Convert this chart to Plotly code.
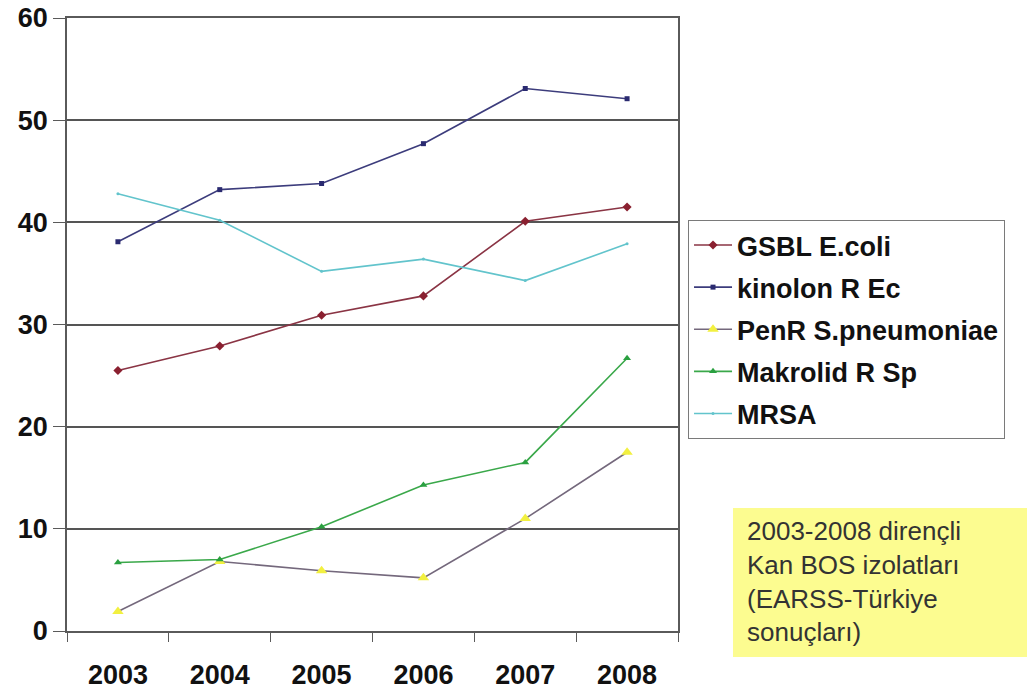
import plotly.graph_objects as go

# Yıllar (kategori ekseni)
years = ["2003", "2004", "2005", "2006", "2007", "2008"]

# Dirençli izolat oranları (%)
gsbl_ecoli = [25.5, 27.9, 30.9, 32.8, 40.1, 41.5]
kinolon_r_ec = [38.1, 43.2, 43.8, 47.7, 53.1, 52.1]
penr_spn = [1.9, 6.8, 5.9, 5.2, 11.0, 17.5]
makrolid_r_sp = [6.7, 7.0, 10.2, 14.3, 16.5, 26.7]
mrsa = [42.8, 40.2, 35.2, 36.4, 34.3, 37.9]

series_names = ["GSBL E.coli", "kinolon R Ec", "PenR S.pneumoniae", "Makrolid R Sp", "MRSA"]

y_ticks = [0, 10, 20, 30, 40, 50, 60]

note_lines = ["2003-2008 dirençli", "Kan BOS izolatları", "(EARSS-Türkiye", "sonuçları)"]

FONT = "Liberation Sans, Arial, sans-serif"

styles = [
    dict(line="#8a3444", marker="#8a2030", symbol="diamond", size=7),
    dict(line="#3c3c7c", marker="#2a2a70", symbol="square", size=5),
    dict(line="#74687c", marker="#f2f040", symbol="triangle-up", size=10),
    dict(line="#3aa84a", marker="#2aa040", symbol="triangle-up", size=7),
    dict(line="#62c4cc", marker="#62c4cc", symbol="circle", size=3),
]

fig = go.Figure()
for name, values, st in zip(series_names, [gsbl_ecoli, kinolon_r_ec, penr_spn, makrolid_r_sp, mrsa], styles):
    fig.add_trace(go.Scatter(
        x=years, y=values, name=name, mode="lines+markers",
        legendgroup=name,
        line=dict(color=st["line"], width=1.6),
        marker=dict(color=st["marker"], symbol=st["symbol"], size=st["size"],
                    line=dict(width=0)),
    ))

# Sarı bilgi kutusu
fig.add_shape(type="rect", xref="paper", yref="paper",
              x0=1.090, x1=1.60, y0=-0.0424, y1=0.2007,
              fillcolor="#fcfc90", line=dict(width=0), layer="below")

fig.add_annotation(
    xref="paper", yref="paper", x=1.1097, y=0.08,
    xanchor="left", yanchor="middle", align="left", showarrow=False,
    text="<br>".join(note_lines),
    font=dict(family=FONT, size=26, color="#333333"),
)

fig.update_layout(
    width=1027, height=697,
    margin=dict(l=67, r=349, t=18, b=66, autoexpand=False),
    paper_bgcolor="white", plot_bgcolor="white",
    font=dict(family=FONT, color="#111111"),
    showlegend=True,
    legend=dict(
        x=1.0164, y=0.6705, xanchor="left", yanchor="top",
        bgcolor="white", bordercolor="#7a7a7a", borderwidth=1,
        font=dict(family=FONT, size=27, color="#111111", weight="bold"),
        traceorder="grouped", tracegroupgap=4, itemwidth=38,
    ),
    xaxis=dict(
        type="category", range=[-0.5, 5.5], tickson="boundaries",
        showgrid=False, showline=True, linecolor="#5a5a5a", linewidth=1.5,
        mirror=True, ticks="outside", ticklen=9, tickcolor="#5a5a5a",
        tickfont=dict(family=FONT, size=27, color="#111111", weight="bold"),
        ticklabelstandoff=19,
    ),
    yaxis=dict(
        range=[0, 60], tickvals=y_ticks, showgrid=True,
        gridcolor="#555555", gridwidth=1.5, zeroline=False,
        showline=True, linecolor="#5a5a5a", linewidth=1.5, mirror=True,
        ticks="outside", ticklen=12, tickcolor="#5a5a5a",
        tickfont=dict(family=FONT, size=27, color="#111111", weight="bold"),
    ),
)

fig.write_html("out.html")
